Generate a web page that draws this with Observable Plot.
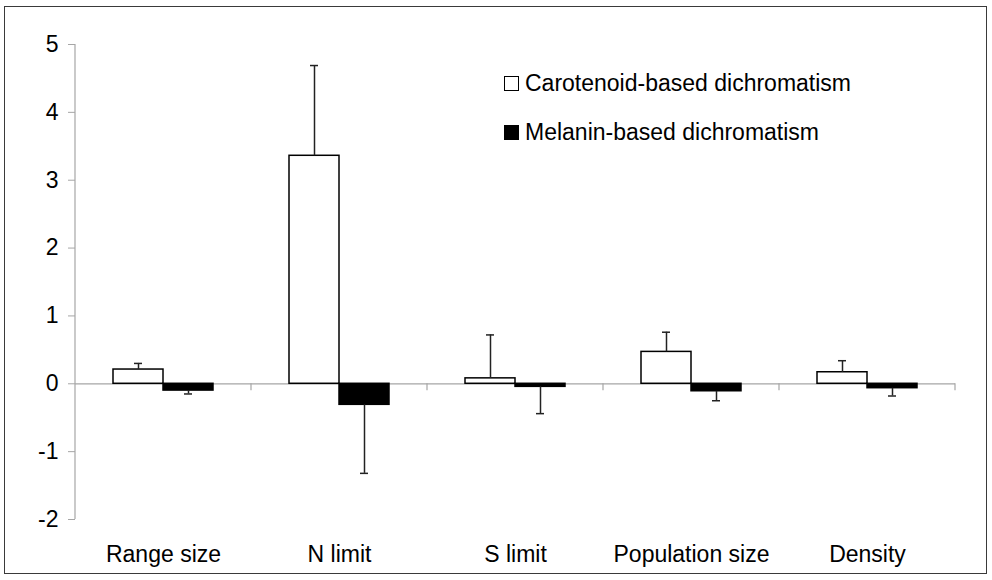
<!DOCTYPE html>
<html>
<head>
<meta charset="utf-8">
<script src="https://cdn.jsdelivr.net/npm/d3@7"></script>
<script src="https://cdn.jsdelivr.net/npm/@observablehq/plot@0.6"></script>
<style>
  html, body { margin: 0; padding: 0; background: #fff; }
  #wrap { position: relative; width: 992px; height: 580px; font-family: "Liberation Sans", Arial, sans-serif; }
  #border { position: absolute; left: 4px; top: 6px; width: 981px; height: 566px; border: 1.5px solid #3a3a3a; pointer-events: none; }
  .legend { position: absolute; left: 504px; font-size: 23px; color: #000; display: flex; align-items: center; white-space: nowrap; }
  .swatch { width: 13px; height: 13px; border: 1.2px solid #000; margin-right: 6px; box-sizing: content-box; }
</style>
</head>
<body>
<div id="wrap">
  <div id="chart"></div>
  <div id="border"></div>
</div>
<script>
const categories = ["Range size", "N limit", "S limit", "Population size", "Density"];
const series = ["Carotenoid-based dichromatism", "Melanin-based dichromatism"];
const carotenoidMean = [0.21, 3.36, 0.08, 0.47, 0.17];
const carotenoidErr  = [0.09, 1.33, 0.64, 0.29, 0.17];
const melaninMean    = [-0.10, -0.31, -0.045, -0.11, -0.065];
const melaninErr     = [0.05, 1.01, 0.395, 0.14, 0.115];
const yTicks = [-2, -1, 0, 1, 2, 3, 4, 5];

const rows = [];
categories.forEach((c, i) => {
  rows.push({category: c, series: series[0], value: carotenoidMean[i], end: carotenoidMean[i] + carotenoidErr[i]});
  rows.push({category: c, series: series[1], value: melaninMean[i], end: melaninMean[i] - melaninErr[i]});
});

const fillFor = {[series[0]]: "#ffffff", [series[1]]: "#000000"};

const chart = Plot.plot({
  width: 992,
  height: 580,
  marginLeft: 74,
  marginRight: 37,
  marginTop: 44,
  marginBottom: 61,
  style: {fontFamily: "'Liberation Sans', Arial, sans-serif", fontSize: "23px", color: "#000", background: "transparent"},
  fx: {domain: categories, padding: 0, label: null},
  x: {domain: series, paddingInner: 0, paddingOuter: 0.74, axis: null},
  y: {domain: [-2, 5], label: null},
  marks: [
    Plot.ruleY([0], {stroke: "#a6a6a6", strokeWidth: 1.2}),
    Plot.barY(rows, {fx: "category", x: "series", y: "value", fill: d => fillFor[d.series], stroke: "#000", strokeWidth: 1.5}),
    Plot.ruleX(rows, {fx: "category", x: "series", y1: "value", y2: "end", stroke: "#222", strokeWidth: 1.5}),
    Plot.tickY(rows, {fx: "category", x: "series", y: "end", stroke: "#222", strokeWidth: 1.5, insetLeft: 21, insetRight: 21}),
    Plot.axisY(yTicks, {tickSize: 7, tickPadding: 10, stroke: "#a6a6a6", fill: "#000", fontSize: 23, tickFormat: d => String(d), label: null}),
    Plot.axisFx({anchor: "bottom", tickSize: 0, tickPadding: 26, fontSize: 23, fill: "#000", label: null})
  ]
});

document.getElementById("chart").appendChild(chart);

// y-axis line and category boundary ticks, positioned with the plot's own scales
const fx = chart.scale("fx");
const y = chart.scale("y");
const svg = d3.select(chart);
const left = fx.apply(categories[0]);
const g = svg.append("g").attr("stroke", "#a6a6a6").attr("stroke-width", 1.2);
g.append("line").attr("x1", left).attr("x2", left).attr("y1", y.apply(5)).attr("y2", y.apply(-2));
categories.forEach(c => {
  const xb = fx.apply(c) + fx.bandwidth;
  g.append("line").attr("x1", xb).attr("x2", xb).attr("y1", y.apply(0)).attr("y2", y.apply(0) + 7);
});

// legend
const wrap = document.getElementById("wrap");
const legendTops = [70, 119];
series.forEach((s, i) => {
  const item = document.createElement("div");
  item.className = "legend";
  item.style.top = legendTops[i] + "px";
  const sw = document.createElement("div");
  sw.className = "swatch";
  sw.style.background = fillFor[s];
  const label = document.createElement("span");
  label.textContent = s;
  item.appendChild(sw);
  item.appendChild(label);
  wrap.appendChild(item);
});
</script>
</body>
</html>
